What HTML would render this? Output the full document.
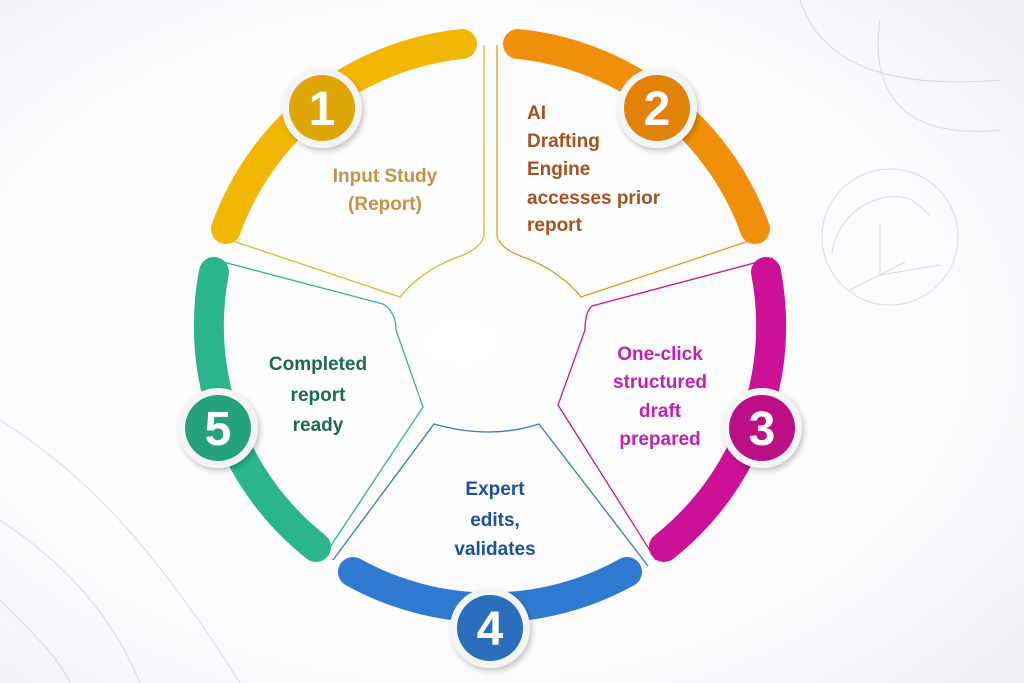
<!DOCTYPE html>
<html><head><meta charset="utf-8"><style>
html,body{margin:0;padding:0}
body{width:1024px;height:683px;overflow:hidden;background:#f7f7fb;font-family:"Liberation Sans",sans-serif}
svg{display:block}
text{font-family:"Liberation Sans",sans-serif;font-weight:bold}
.n{font-family:"Liberation Sans Narrow","Liberation Sans",sans-serif}
</style></head><body>
<svg width="1024" height="683" viewBox="0 0 1024 683">
<defs>
<radialGradient id="bg" cx="0.45" cy="0.5" r="0.7">
<stop offset="0" stop-color="#ffffff"/><stop offset="0.7" stop-color="#fbfbfd"/><stop offset="1" stop-color="#f1f0f7"/>
</radialGradient>
<filter id="sh" x="-30%" y="-30%" width="160%" height="160%"><feDropShadow dx="2" dy="3" stdDeviation="3" flood-color="#000" flood-opacity="0.22"/></filter>
</defs>
<rect width="1024" height="683" fill="url(#bg)"/>
<g fill="none" stroke="#ddd6e8" stroke-width="1">
<circle cx="890" cy="237" r="68"/>
<path d="M832 253 C840 200 900 185 918 205 L930 215 M880 225 L880 275 L940 265 M850 290 L905 262"/>
<path d="M800 0 C820 60 880 90 1000 80"/>
<path d="M880 20 C870 90 900 140 1000 130"/>
<path d="M0 420 C80 470 150 540 240 683"/>
<path d="M0 520 C60 560 110 610 140 683"/>
<path d="M0 600 C40 640 60 660 70 683"/>
</g>
<g fill="none" stroke-width="1.3">
<path d="M484 45 L484 236 Q480 250 455 258 Q420 272 400 297 L230 240" stroke="#e8b321"/>
<path d="M497 45 L497 236 Q501 250 526 258 Q561 272 581 297 L752 240" stroke="#eb9418"/>
<path d="M208 258 L383 304 Q396 312 396 330 L423 407 L324 556" stroke="#2bb58c"/>
<path d="M773 258 L592 306 Q585 312 585 330 L558 405 L656 560" stroke="#cc1196"/>
<path d="M333 560 L434 424 Q490 440 539 424 L648 566" stroke="#2f7ad0"/>
</g>
<g fill="none" stroke-width="30" stroke-linecap="round">
<path d="M226 229 A282 282 0 0 1 462 44" stroke="#f2b705"/>
<path d="M518 44 A282 282 0 0 1 755 229" stroke="#f0900a"/>
<path d="M766 272 A282 282 0 0 1 664 547" stroke="#cc1196"/>
<path d="M627 572 A282 282 0 0 1 353 572" stroke="#2f7ad0"/>
<path d="M316 547 A282 282 0 0 1 214 272" stroke="#2bb58c"/>
</g>
<g font-size="48" text-anchor="middle" fill="#fff" class="n">
<circle cx="322" cy="108" r="40" fill="#f4f4f6" filter="url(#sh)"/><circle cx="322" cy="108" r="33" fill="#dea606"/><text class="n" x="322" y="125">1</text>
<circle cx="657" cy="108" r="40" fill="#f4f4f6" filter="url(#sh)"/><circle cx="657" cy="108" r="33" fill="#e08308"/><text class="n" x="657" y="125">2</text>
<circle cx="762" cy="428" r="40" fill="#f4f4f6" filter="url(#sh)"/><circle cx="762" cy="428" r="33" fill="#bb0f86"/><text class="n" x="762" y="445">3</text>
<circle cx="490" cy="628" r="40" fill="#f4f4f6" filter="url(#sh)"/><circle cx="490" cy="628" r="33" fill="#2a6ebd"/><text class="n" x="490" y="645">4</text>
<circle cx="218" cy="428" r="40" fill="#f4f4f6" filter="url(#sh)"/><circle cx="218" cy="428" r="33" fill="#25a27c"/><text class="n" x="218" y="445">5</text>
</g>
<g font-size="19">
<g fill="#c8914a" text-anchor="middle"><text x="385" y="182">Input Study</text><text x="385" y="210">(Report)</text></g>
<g fill="#a5521c"><text x="527" y="119">AI</text><text x="527" y="147">Drafting</text><text x="527" y="175">Engine</text><text x="527" y="204">accesses prior</text><text x="527" y="231">report</text></g>
<g fill="#1b6b4e" text-anchor="middle"><text x="318" y="370">Completed</text><text x="318" y="401">report</text><text x="318" y="431">ready</text></g>
<g fill="#c21fb8" text-anchor="middle"><text x="660" y="360">One-click</text><text x="660" y="388">structured</text><text x="660" y="417">draft</text><text x="660" y="445">prepared</text></g>
<g fill="#1d4f9c" text-anchor="middle"><text x="495" y="495">Expert</text><text x="495" y="526">edits,</text><text x="495" y="555">validates</text></g>
</g>
</svg>
</body></html>
